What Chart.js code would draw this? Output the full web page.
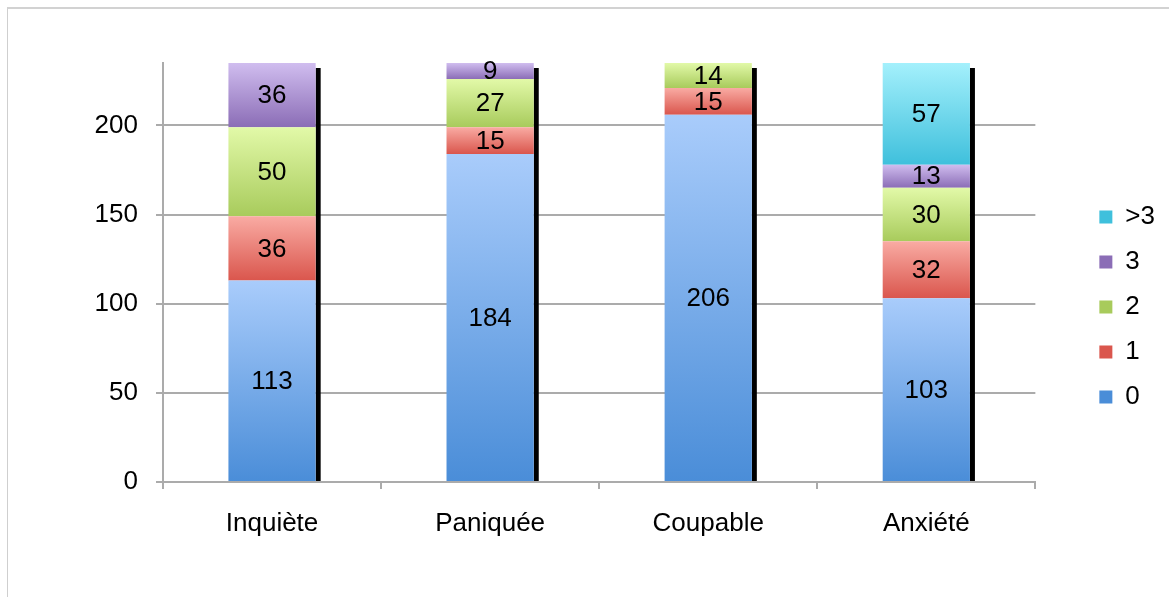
<!DOCTYPE html>
<html>
<head>
<meta charset="utf-8">
<script src="https://cdn.jsdelivr.net/npm/chart.js@4/dist/chart.umd.min.js"></script>
<style>
  html, body { margin: 0; padding: 0; background: #fff; overflow: hidden; }
  #frame { position: absolute; left: 7px; top: 7px; width: 1300px; height: 700px;
           border-left: 1px solid #cfcfcf; border-top: 2px solid #d2d2d2; }
  #wrap { position: absolute; left: 0; top: 0; width: 1169px; height: 597px; }
</style>
</head>
<body>
<div id="frame"></div>
<div id="wrap"><canvas id="chart"></canvas></div>
<script>
/* ===== DATA ===== */
const categories = ['Inquiète', 'Paniquée', 'Coupable', 'Anxiété'];
const seriesNames = ['0', '1', '2', '3', '>3'];
const s0 = [113, 184, 206, 103];
const s1 = [36, 15, 15, 32];
const s2 = [50, 27, 14, 30];
const s3 = [36, 9, 0, 13];
const s4 = [0, 0, 0, 57];
const yTicks = [0, 50, 100, 150, 200];
const yMax = 235;

/* ===== COLOURS (light top -> dark bottom) ===== */
const COLORS = [
  ['#a9ccfb', '#4a8dd8'],
  ['#f9aba3', '#da564d'],
  ['#e2f9a8', '#a8cb5c'],
  ['#d0bdef', '#8b6db6'],
  ['#a4f0fc', '#3fc0dc']
];

function gradFill(idx) {
  const [light, dark] = COLORS[idx];
  return ctx => {
    const chart = ctx.chart;
    const y = chart.scales.y;
    if (ctx.type !== 'data' || !y || !chart.chartArea) return dark;
    let start = 0;
    for (let i = 0; i < ctx.datasetIndex; i++) start += chart.data.datasets[i].data[ctx.dataIndex];
    const top = y.getPixelForValue(start + ctx.raw);
    const bot = y.getPixelForValue(start);
    if (!isFinite(top) || !isFinite(bot) || top === bot) return dark;
    const g = chart.ctx.createLinearGradient(0, top, 0, bot);
    g.addColorStop(0, light);
    g.addColorStop(1, dark);
    return g;
  };
}

const FONT = "'Liberation Sans', Arial, sans-serif";
const FSIZE = 26;
const GRID = '#ababab';

/* ===== SHADOW + VALUE LABELS ===== */
const barExtras = {
  id: 'barExtras',
  beforeDatasetsDraw(chart) {
    const { ctx, chartArea } = chart;
    const first = chart.getDatasetMeta(0).data;
    ctx.save();
    ctx.beginPath();
    ctx.rect(chartArea.left, chartArea.top, chartArea.width, chartArea.height);
    ctx.clip();
    ctx.fillStyle = '#000';
    first.forEach((bar, i) => {
      let topY = bar.y;
      chart.data.datasets.forEach((ds, d) => {
        const el = chart.getDatasetMeta(d).data[i];
        if (ds.data[i] > 0) topY = Math.min(topY, el.y);
      });
      const right = bar.x + bar.width / 2;
      ctx.fillRect(right, topY + 5, 5, bar.base - topY - 5);
    });
    ctx.restore();
  },
  afterDatasetsDraw(chart) {
    const { ctx } = chart;
    ctx.save();
    ctx.font = FSIZE + 'px ' + FONT;
    ctx.fillStyle = '#000';
    ctx.textAlign = 'center';
    ctx.textBaseline = 'middle';
    chart.data.datasets.forEach((ds, d) => {
      chart.getDatasetMeta(d).data.forEach((el, i) => {
        const v = ds.data[i];
        if (!v) return;
        ctx.fillText(String(v), el.x, (el.y + el.base) / 2 + 1);
      });
    });
    ctx.restore();
  },
  afterLayout(chart) {
    // push legend away from the plot, as in the original
    const lg = chart.legend;
    if (lg) { lg.left += 45; lg.right += 45; }
  }
};

const datasets = [s0, s1, s2, s3, s4].map((arr, i) => ({
  label: seriesNames[i],
  data: arr,
  backgroundColor: gradFill(i),
  borderWidth: 0,
  categoryPercentage: 1,
  barPercentage: 0.4
}));

new Chart(document.getElementById('chart'), {
  type: 'bar',
  data: { labels: categories, datasets },
  plugins: [barExtras],
  options: {
    responsive: true,
    maintainAspectRatio: false,
    animation: false,
    layout: { padding: { top: 63, right: 49, bottom: 46, left: 0 } },
    scales: {
      x: {
        stacked: true,
        offset: true,
        grid: { offset: true, drawOnChartArea: false, color: GRID, lineWidth: 2, tickLength: 7 },
        border: { color: GRID, width: 2 },
        ticks: { color: '#000', padding: 19, font: { family: FONT, size: FSIZE } },
        afterFit: s => { s.height = 69; }
      },
      y: {
        stacked: true,
        min: 0,
        max: yMax,
        afterBuildTicks: s => { s.ticks = yTicks.map(v => ({ value: v })); },
        grid: { color: GRID, lineWidth: 2, tickLength: 7 },
        border: { color: GRID, width: 2 },
        ticks: { color: '#000', padding: 18, font: { family: FONT, size: FSIZE } },
        afterFit: s => { s.width = 163; }
      }
    },
    plugins: {
      tooltip: { enabled: false },
      legend: {
        position: 'right',
        reverse: true,
        labels: {
          boxWidth: 13,
          boxHeight: 13,
          padding: 19,
          color: '#000',
          font: { family: FONT, size: FSIZE },
          generateLabels: chart => chart.data.datasets.map((ds, i) => ({
            text: ds.label,
            fillStyle: COLORS[i][1],
            strokeStyle: COLORS[i][1],
            lineWidth: 0,
            datasetIndex: i
          }))
        }
      }
    }
  }
});
</script>
</body>
</html>
